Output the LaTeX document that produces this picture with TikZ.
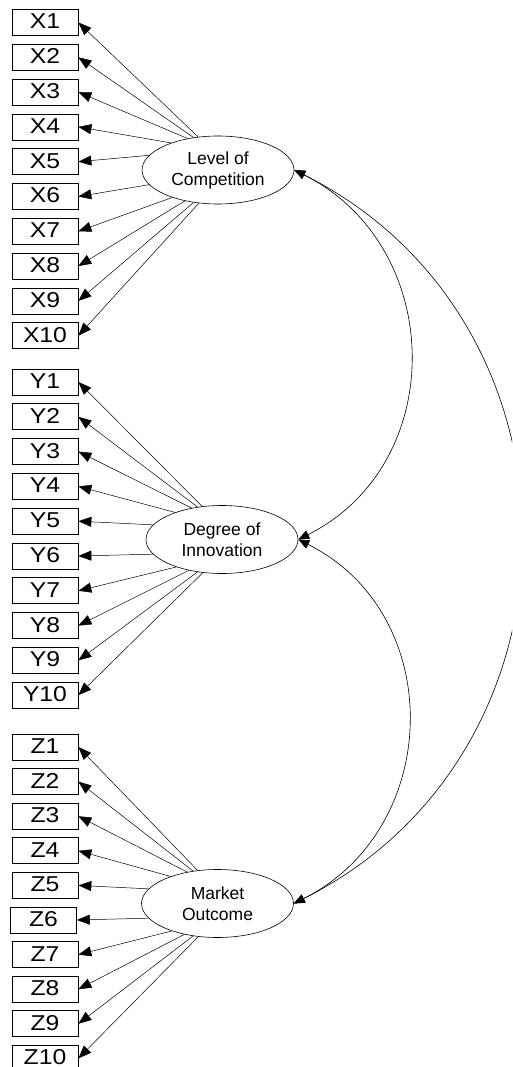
\documentclass[tikz,border=0pt]{standalone}
\usepackage{fontspec}
\setmainfont{Liberation Sans}
\newfontfamily\boxfont[FakeStretch=1.15]{Liberation Sans}
\usetikzlibrary{arrows.meta,shapes.geometric}
\begin{document}
\begin{tikzpicture}[x=1pt,y=1pt,
 obs/.style={draw, line width=0.7pt, minimum width=66pt, minimum height=26pt, inner sep=0pt, text depth=2.2pt, text height=15pt, font=\boxfont\fontsize{21.5}{21.5}\selectfont},
 lat/.style={draw, ellipse, line width=0.6pt, minimum width=152pt, minimum height=68pt, inner sep=0pt, align=center, font=\fontsize{17.5}{21}\selectfont},
 load/.style={line width=0.5pt, -{Triangle[length=13pt,width=10pt]}},
 cov/.style={line width=0.6pt, {Triangle[length=11pt,width=9pt]}-{Triangle[length=11pt,width=9pt]}}
]
\useasboundingbox (0,0) rectangle (512,-1067);
\clip (0,0) rectangle (512,-1067);
\node[lat] (L1) at (218,-170) {Level of\\Competition};
\node[lat] (L2) at (222,-539.5) {Degree of\\Innovation};
\node[lat] (L3) at (217.5,-903.5) {Market\\Outcome};
\foreach \i/\a in {1/121,2/127,3/134,4/150,5/168,6/192,7/211,8/223,9/233,10/240}{
  \node[obs] (X\i) at (45,{-(22.5+34.8*(\i-1))}) {X\i};
  \draw[load] (L1.\a) -- (X\i.east);
  \node[obs] (Y\i) at (45,{-(382+34.8*(\i-1))}) {Y\i};
  \draw[load] (L2.\a) -- (Y\i.east);
}
\foreach \i/\a/\x in {1/121/45,2/127/45,3/134/45,4/150/45,5/168/45,6/192/43.5,7/211/45,8/223/45,9/233/45,10/240/45}{
  \node[obs] (Z\i) at (\x,{-(747+34.6*(\i-1))}) {Z\i};
  \draw[load] (L3.\a) -- (Z\i.east);
}
\draw[cov] (L1.east) to[out=-26.6,in=26.6,looseness=1.17] (L2.east);
\draw[cov] (L2.east) to[out=-26.6,in=26.6,looseness=1.17] (L3.east);
\draw[cov] (L1.east) to[out=-26.6,in=26.6,looseness=1.18] (L3.east);
\end{tikzpicture}
\end{document}
